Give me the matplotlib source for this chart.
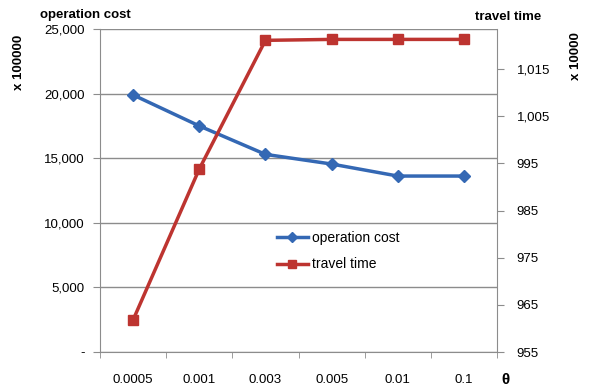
import matplotlib.pyplot as plt
from matplotlib.ticker import FuncFormatter, MultipleLocator, FixedLocator

plt.rcParams['font.family'] = ['Liberation Sans', 'DejaVu Sans']

thetas = ['0.0005', '0.001', '0.003', '0.005', '0.01', '0.1']
operation_cost = [19900, 17500, 15300, 14550, 13620, 13620]
travel_time = [961.8, 993.8, 1021.1, 1021.3, 1021.3, 1021.3]

blue = '#3468b4'
red = '#bd3430'
grey = '#8c8c8c'

fig = plt.figure(figsize=(5.9, 3.87), dpi=100)
ax = fig.add_axes([0.1695, 0.0904, 0.6729, 0.8346])
ax2 = ax.twinx()

x = range(len(thetas))
l1, = ax.plot(x, operation_cost, color=blue, lw=2.5, marker='D', ms=6,
              label='operation cost', zorder=3)
l2, = ax2.plot(x, travel_time, color=red, lw=2.5, marker='s', ms=7,
               label='travel time', zorder=3)

ax.set_xlim(-0.5, len(thetas) - 0.5)
ax.set_ylim(0, 25000)
ax2.set_ylim(955, 1023.5)

# left axis
ax.yaxis.set_major_locator(MultipleLocator(5000))
ax.yaxis.set_major_formatter(FuncFormatter(lambda v, p: '-' if v == 0 else f'{v:,.0f}'))
ax.grid(axis='y', color=grey, lw=1)
ax.set_axisbelow(True)

# right axis
ax2.yaxis.set_major_locator(FixedLocator([955, 965, 975, 985, 995, 1005, 1015]))
ax2.yaxis.set_major_formatter(FuncFormatter(lambda v, p: f'{v:,.0f}'))

# x axis: labels centred, tick marks between categories
ax.set_xticks(list(x))
ax.set_xticklabels(thetas)
ax.set_xticks([i - 0.5 for i in range(len(thetas) + 1)], minor=True)
ax.tick_params(axis='x', which='major', length=0, pad=16, labelsize=9.5)
ax.tick_params(axis='x', which='minor', length=4, color=grey, direction='out')
ax.tick_params(axis='y', length=5, color=grey, labelsize=9.5, pad=6)
ax2.tick_params(axis='y', length=5, color=grey, labelsize=9.5, pad=9)

for a in (ax, ax2):
    for s in a.spines.values():
        s.set_visible(False)
    a.spines['left'].set_visible(a is ax)
    a.spines['right'].set_visible(a is ax2)
ax.spines['left'].set_color(grey)
ax2.spines['right'].set_color(grey)
ax.spines['bottom'].set_visible(True)
ax.spines['bottom'].set_color(grey)

fig.text(0.068, 0.961, 'operation cost', fontsize=9.5, fontweight='bold', va='center')
fig.text(0.032, 0.84, 'x 100000', fontsize=9.5, fontweight='bold', rotation=90,
         va='center', ha='center')
fig.text(0.861, 0.956, 'travel time', fontsize=9.5, fontweight='bold', va='center', ha='center')
fig.text(0.977, 0.855, 'x 10000', fontsize=9.5, fontweight='bold', rotation=90,
         va='center', ha='center')
fig.text(0.857, 0.0, 'θ', fontsize=11, fontweight='bold', va='bottom', ha='center')

leg = ax2.legend(handles=[l1, l2], loc='upper left', bbox_to_anchor=(0.446, 0.375),
                 frameon=False, fontsize=10, borderpad=0, borderaxespad=0,
                 labelspacing=0.9, handlelength=2.2, handletextpad=0.3, markerscale=0.8)

fig.savefig('out.png', dpi=100)
